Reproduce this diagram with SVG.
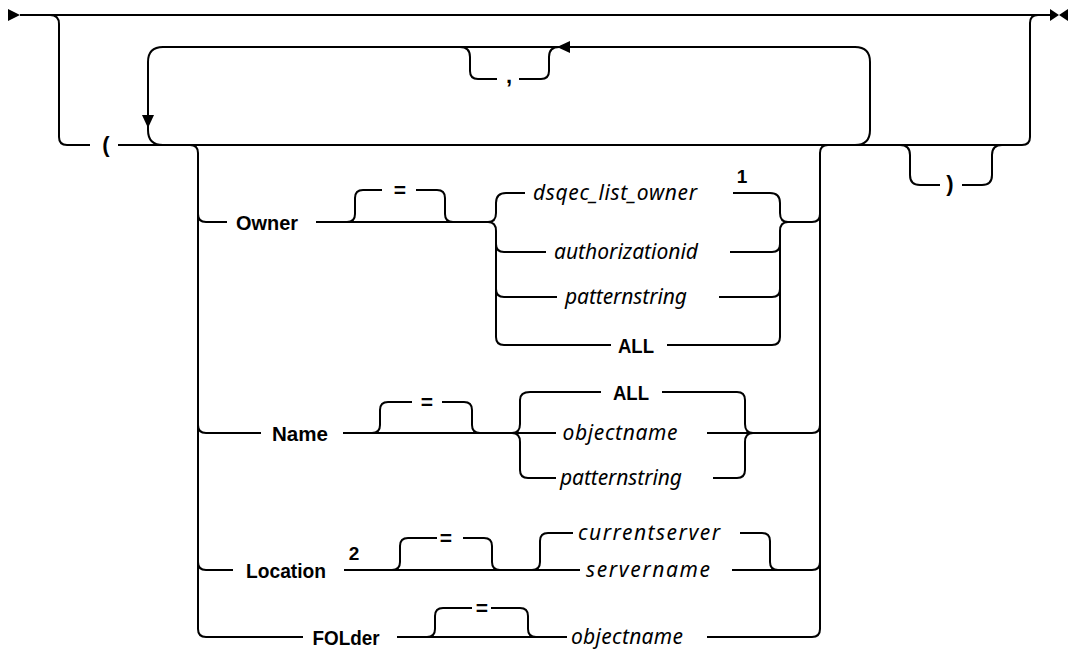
<svg xmlns="http://www.w3.org/2000/svg" width="1068" height="649" viewBox="0 0 1068 649">
<style>
.l{fill:none;stroke:#000;stroke-width:2;stroke-linecap:butt;stroke-linejoin:round}
.a{fill:#000;stroke:none}
text{font-family:"Noto Sans","Liberation Sans",sans-serif;fill:#000;text-anchor:middle}
.k{font-family:"Liberation Sans","Noto Sans",sans-serif;font-size:21px;font-weight:700}
.v{font-size:21px;font-style:italic}
.s{font-family:"Liberation Sans","Noto Sans",sans-serif;font-size:22px;font-weight:700}
.e{font-family:"Liberation Sans","Noto Sans",sans-serif;font-size:21px;font-weight:700}
.n{font-family:"Liberation Sans","Noto Sans",sans-serif;font-size:19px;font-weight:700}
</style>
<rect width="1068" height="649" fill="#fff"/>
<g id="connectors">
<path class="l" d="M20,15 L1050,15"/>
<path class="l" d="M50,15 Q59,15 59,24 L59,137 Q59,145 67,145 L90,145"/>
<path class="l" d="M118,145 L1022,145 Q1030,145 1030,137 L1030,23 Q1030,15 1038,15"/>
<path class="l" d="M163,145 Q148,145 148,130 L148,62 Q148,47 163,47 L855,47 Q870,47 870,62 L870,130 Q870,145 855,145"/>
<path class="l" d="M460,47 Q470,47 470,57 L470,71 Q470,79 478,79 L497,79"/>
<path class="l" d="M519,79 L541,79 Q549,79 549,71 L549,57 Q549,47 559,47"/>
<path class="l" d="M900,145 Q910,145 910,155 L910,175 Q910,185 920,185 L940,185"/>
<path class="l" d="M962,185 L982,185 Q992,185 992,175 L992,155 Q992,145 1002,145"/>
<path class="l" d="M190,145 Q198,145 198,153 L198,629 Q198,637 206,637"/>
<path class="l" d="M828,145 Q820,145 820,153 L820,629 Q820,637 812,637"/>
<!-- Owner row -->
<path class="l" d="M198,214 Q198,222 206,222 L227,222"/>
<path class="l" d="M316,222 L488,222"/>
<path class="l" d="M347,222 Q355,222 355,214 L355,198 Q355,190 363,190 L382,190"/>
<path class="l" d="M416,190 L437,190 Q445,190 445,198 L445,214 Q445,222 453,222"/>
<path class="l" d="M506,193 Q496,193 496,203 L496,213 Q496,222 488,222 Q496,222 496,231 L496,337 Q496,345 504,345"/>
<path class="l" d="M496,244 Q496,252 504,252"/>
<path class="l" d="M496,289 Q496,297 504,297"/>
<path class="l" d="M506,193 L525,193"/>
<path class="l" d="M733,193 L770,193"/>
<path class="l" d="M504,252 L546,252"/>
<path class="l" d="M730,252 L772,252"/>
<path class="l" d="M504,297 L557,297"/>
<path class="l" d="M719,297 L772,297"/>
<path class="l" d="M504,345 L611,345"/>
<path class="l" d="M667,345 L772,345"/>
<path class="l" d="M770,193 Q780,193 780,203 L780,213 Q780,222 788,222 Q780,222 780,231 L780,337 Q780,345 772,345"/>
<path class="l" d="M772,252 Q780,252 780,244"/>
<path class="l" d="M772,297 Q780,297 780,289"/>
<path class="l" d="M788,222 L812,222 Q820,222 820,214"/>
<!-- Name row -->
<path class="l" d="M198,425 Q198,433 206,433 L261,433"/>
<path class="l" d="M343,433 L556,433"/>
<path class="l" d="M372,433 Q380,433 380,425 L380,410 Q380,402 388,402 L412,402"/>
<path class="l" d="M442,402 L464,402 Q472,402 472,410 L472,425 Q472,433 480,433"/>
<path class="l" d="M530,392 Q520,392 520,400 L520,424 Q520,433 512,433 Q520,433 520,442 L520,470 Q520,478 528,478"/>
<path class="l" d="M530,392 L601,392"/>
<path class="l" d="M662,392 L737,392"/>
<path class="l" d="M528,478 L556,478"/>
<path class="l" d="M713,478 L737,478"/>
<path class="l" d="M737,392 Q745,392 745,400 L745,424 Q745,433 753,433 Q745,433 745,442 L745,470 Q745,478 737,478"/>
<path class="l" d="M707,433 L812,433 Q820,433 820,425"/>
<!-- Location row -->
<path class="l" d="M198,562 Q198,570 206,570 L233,570"/>
<path class="l" d="M344,570 L580,570"/>
<path class="l" d="M732,570 L812,570 Q820,570 820,562"/>
<path class="l" d="M392,570 Q400,570 400,562 L400,546 Q400,538 408,538 L437,538"/>
<path class="l" d="M463,538 L484,538 Q492,538 492,546 L492,562 Q492,570 500,570"/>
<path class="l" d="M532,570 Q540,570 540,562 L540,541 Q540,533 548,533 L573,533"/>
<path class="l" d="M740,533 L762,533 Q770,533 770,541 L770,562 Q770,570 778,570"/>
<!-- FOLder row -->
<path class="l" d="M206,637 L303,637"/>
<path class="l" d="M397,637 L567,637"/>
<path class="l" d="M707,637 L812,637"/>
<path class="l" d="M427,637 Q435,637 435,629 L435,616 Q435,608 443,608 L472,608"/>
<path class="l" d="M491,608 L520,608 Q528,608 528,616 L528,629 Q528,637 536,637"/>
<!-- arrows -->
<polygon class="a" points="8,9 20,15 8,21"/>
<polygon class="a" points="1050,9 1059,15 1050,21"/>
<polygon class="a" points="1068,9 1059,15 1068,21"/>
<polygon class="a" points="142,115 154,115 148,128"/>
<polygon class="a" points="557,47 570,41 570,53"/>
</g>
<g id="open-paren"><text class="s" x="106" y="152">(</text></g>
<g id="close-paren"><text class="s" x="950" y="191">)</text></g>
<g id="comma"><text class="s" x="509" y="83">,</text></g>
<g id="owner"><text class="k" x="267" y="230" textLength="62" lengthAdjust="spacingAndGlyphs">Owner</text></g>
<g id="owner-eq"><text class="e" x="400" y="197">=</text></g>
<g id="owner-dsqec"><text class="v" x="615" y="200" textLength="164">dsqec_list_owner</text></g>
<g id="note-1"><text class="n" x="742" y="183">1</text></g>
<g id="owner-authid"><text class="v" x="626" y="259" textLength="144">authorizationid</text></g>
<g id="owner-pattern"><text class="v" x="626" y="304" textLength="122">patternstring</text></g>
<g id="owner-all"><text class="k" x="636" y="353" textLength="36" lengthAdjust="spacingAndGlyphs">ALL</text></g>
<g id="name"><text class="k" x="300" y="441" textLength="56" lengthAdjust="spacingAndGlyphs">Name</text></g>
<g id="name-eq"><text class="e" x="427" y="409">=</text></g>
<g id="name-all"><text class="k" x="631" y="400" textLength="36" lengthAdjust="spacingAndGlyphs">ALL</text></g>
<g id="name-objectname"><text class="v" x="620" y="440" textLength="115">objectname</text></g>
<g id="name-pattern"><text class="v" x="621" y="485" textLength="122">patternstring</text></g>
<g id="location"><text class="k" x="286" y="578" textLength="80" lengthAdjust="spacingAndGlyphs">Location</text></g>
<g id="note-2"><text class="n" x="354" y="560">2</text></g>
<g id="location-eq"><text class="e" x="446" y="545">=</text></g>
<g id="location-current"><text class="v" x="649" y="540" textLength="142">currentserver</text></g>
<g id="location-server"><text class="v" x="648" y="577" textLength="124">servername</text></g>
<g id="folder"><text class="k" x="346" y="645" textLength="67" lengthAdjust="spacingAndGlyphs">FOLder</text></g>
<g id="folder-eq"><text class="e" x="482" y="615">=</text></g>
<g id="folder-objectname"><text class="v" x="627" y="644" textLength="112">objectname</text></g>
</svg>
